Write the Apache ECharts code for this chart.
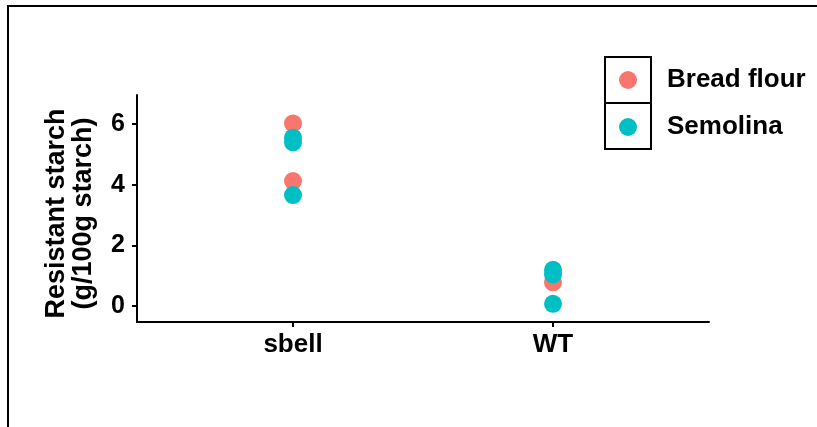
<!DOCTYPE html>
<html>
<head>
<meta charset="utf-8">
<script src="https://cdn.jsdelivr.net/npm/echarts@6/dist/echarts.min.js"></script>
<style>
  html, body { margin: 0; padding: 0; background: #fff; }
  #chart { width: 817px; height: 427px; }
</style>
</head>
<body>
<div id="chart"></div>
<script>
// Genotypes along the x axis (placed at positions 1, 2)
const genotypes = ['sbell', 'WT'];
const yTicks = [0, 2, 4, 6];

// Resistant starch (g/100g starch) per replicate: [genotype index, value]
const breadFlour = [[1, 6.02], [1, 4.12], [2, 0.78]];
const semolina = [[1, 5.55], [1, 5.40], [1, 3.66], [2, 1.19], [2, 1.04], [2, 0.07]];

const FONT = '"Liberation Sans", Arial, sans-serif';
const RED = '#F8766D';
const TEAL = '#00BFC4';

const chart = echarts.init(document.getElementById('chart'), null, { renderer: 'canvas' });

chart.setOption({
  animation: false,
  backgroundColor: '#ffffff',
  textStyle: { fontFamily: FONT },
  grid: { left: 137, right: 108, top: 95, bottom: 105, containLabel: false },
  xAxis: {
    type: 'value',
    min: 0.4,
    max: 2.6,
    splitLine: { show: false },
    axisLine: { show: true, onZero: false, lineStyle: { color: '#000', width: 2 } },
    axisTick: { show: true, length: 5, lineStyle: { color: '#000', width: 2 }, customValues: [1, 2] },
    axisLabel: {
      customValues: [1, 2],
      formatter: v => genotypes[Math.round(v) - 1] || '',
      color: '#000', fontWeight: 'bold', fontSize: 26, fontFamily: FONT, margin: 10
    }
  },
  yAxis: {
    type: 'value',
    min: -0.53,
    max: 6.96,
    splitLine: { show: false },
    axisLine: { show: true, onZero: false, lineStyle: { color: '#000', width: 2 } },
    axisTick: { show: true, length: 5, lineStyle: { color: '#000', width: 2 }, customValues: yTicks },
    axisLabel: {
      customValues: yTicks,
      color: '#000', fontWeight: 'bold', fontSize: 25, fontFamily: FONT, margin: 12
    },
    name: 'Resistant starch\n(g/100g starch)',
    nameLocation: 'middle',
    nameGap: 40,
    nameTextStyle: { color: '#000', fontWeight: 'bold', fontSize: 27, fontFamily: FONT, lineHeight: 27, padding: [0, 10, 0, 0] }
  },
  legend: {
    orient: 'vertical',
    left: 619,
    top: 67,
    padding: 0,
    itemWidth: 18,
    itemHeight: 18,
    itemGap: 21,
    icon: 'circle',
    textStyle: { color: '#000', fontWeight: 'bold', fontSize: 26, fontFamily: FONT, padding: [0, 0, 0, 25] },
    data: ['Bread flour', 'Semolina']
  },
  graphic: [
    { type: 'rect', silent: true, shape: { x: 8, y: 6, width: 900, height: 500 },
      style: { fill: 'none', stroke: '#000', lineWidth: 2 } },
    { type: 'rect', silent: true, shape: { x: 605, y: 57, width: 46, height: 46 },
      style: { fill: 'none', stroke: '#000', lineWidth: 2 } },
    { type: 'rect', silent: true, shape: { x: 605, y: 103, width: 46, height: 46 },
      style: { fill: 'none', stroke: '#000', lineWidth: 2 } }
  ],
  series: [
    { name: 'Bread flour', type: 'scatter', data: breadFlour, symbolSize: 18,
      itemStyle: { color: RED, opacity: 1 } },
    { name: 'Semolina', type: 'scatter', data: semolina, symbolSize: 18,
      itemStyle: { color: TEAL, opacity: 1 } }
  ]
});
</script>
</body>
</html>
